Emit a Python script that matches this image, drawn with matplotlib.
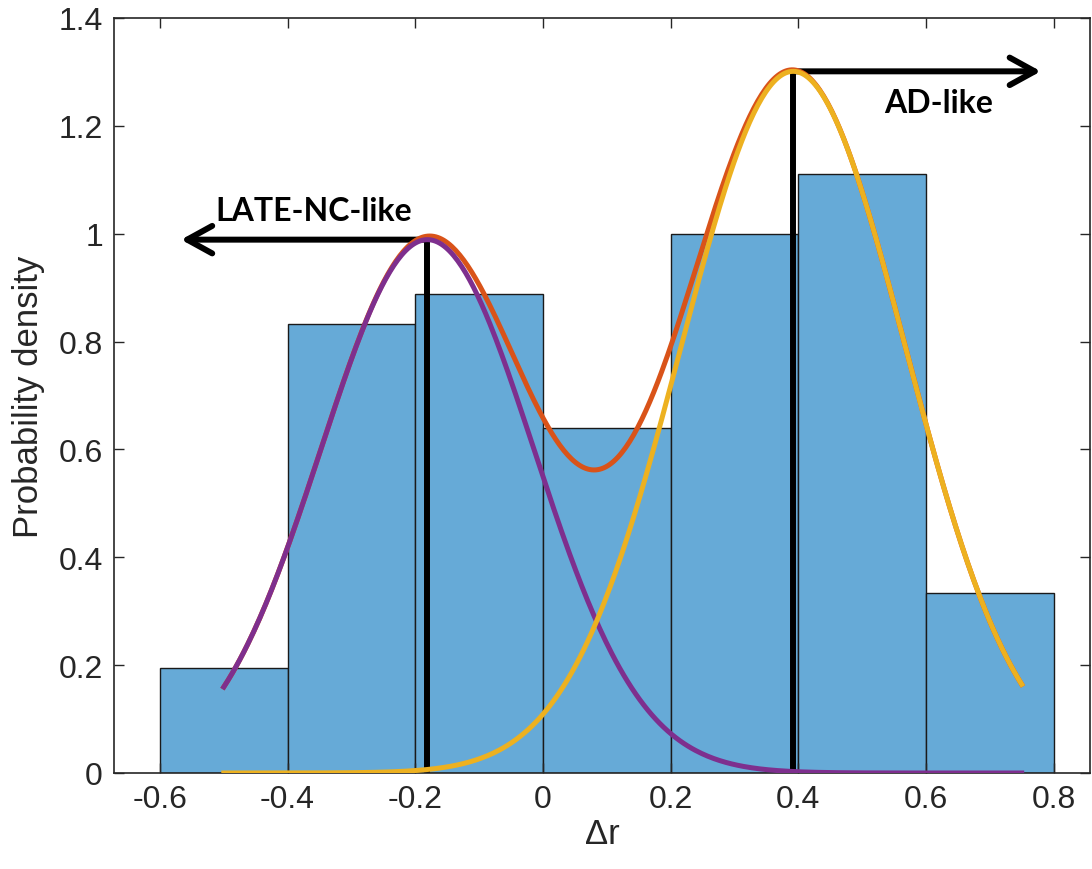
import numpy as np
import matplotlib
matplotlib.use("Agg")
import matplotlib.pyplot as plt

plt.rcParams["font.family"] = ["Liberation Sans", "DejaVu Sans"]

# histogram (probability density per 0.2 bin)
bin_edges = [-0.6, -0.4, -0.2, 0.0, 0.2, 0.4, 0.6, 0.8]
bin_density = [0.194, 0.833, 0.889, 0.639, 1.000, 1.111, 0.333]

# two-component gaussian mixture fit
comp_mean = [-0.181, 0.392]
comp_sigma = [0.167, 0.176]
comp_weight = [0.414, 0.574]
curve_range = [-0.5, 0.75]

# annotation arrows
arrow_tips = [-0.567, 0.780]
labels = ["LATE-NC-like", "AD-like"]
label_pos = [(-0.359, 1.043), (0.620, 1.244)]

xticks = [-0.6, -0.4, -0.2, 0, 0.2, 0.4, 0.6, 0.8]
yticks = [0, 0.2, 0.4, 0.6, 0.8, 1, 1.2, 1.4]


def gauss(x, mu, sd, w):
    return w * np.exp(-(x - mu) ** 2 / (2 * sd ** 2)) / (sd * np.sqrt(2 * np.pi))


fig = plt.figure(figsize=(10.92, 8.70), dpi=100)
ax = fig.add_axes([114 / 1092, 1 - 774 / 870, (1090 - 114) / 1092, (774 - 19) / 870])

bar_color = (0.4, 0.668, 0.845)
ax.bar(bin_edges[:-1], bin_density, width=np.diff(bin_edges), align="edge",
       color=bar_color, edgecolor="#1a1a1a", linewidth=1.0, zorder=1)

x = np.linspace(curve_range[0], curve_range[1], 400)
p1 = gauss(x, comp_mean[0], comp_sigma[0], comp_weight[0])
p2 = gauss(x, comp_mean[1], comp_sigma[1], comp_weight[1])

# vertical markers at component means + arrows
for mu, sd, w, tip in zip(comp_mean, comp_sigma, comp_weight, arrow_tips):
    peak = gauss(mu, mu, sd, w)
    ax.plot([mu, mu], [0, peak], color="black", lw=4.3,
            solid_capstyle="projecting", zorder=2)
    ax.annotate("", xy=(tip, peak), xytext=(mu, peak),
                arrowprops=dict(arrowstyle="->,head_length=1.0,head_width=0.55",
                                color="black", lw=4.3, mutation_scale=18,
                                shrinkA=0, shrinkB=0, capstyle="round"),
                zorder=2)

ax.plot(x, p1 + p2, color="#D95319", lw=3.6, zorder=3)
ax.plot(x, p1, color="#7E2F8E", lw=3.6, zorder=4)
ax.plot(x, p2, color="#EDB120", lw=3.6, zorder=4)

for txt, (tx, ty) in zip(labels, label_pos):
    ax.text(tx, ty, txt, ha="center", va="center", fontsize=23,
            fontweight="bold", family=["Lato", "DejaVu Sans"], zorder=5)

ax.set_xlim(-0.672, 0.857)
ax.set_ylim(0, 1.4)
ax.set_xticks(xticks)
ax.set_xticklabels([f"{t:g}" for t in xticks])
ax.set_yticks(yticks)
ax.set_yticklabels([f"{t:g}" for t in yticks])
ax.tick_params(direction="in", length=7, width=1.0, labelsize=23, color="#262626",
               labelcolor="#262626", top=True, right=True, pad=8)
for s in ax.spines.values():
    s.set_color("#262626")
    s.set_linewidth(1.2)

ax.set_xlabel("Δr", fontsize=25, color="#262626", labelpad=2)
ax.set_ylabel("Probability density", fontsize=25, color="#262626", labelpad=10)

fig.savefig("out.png", dpi=100)
